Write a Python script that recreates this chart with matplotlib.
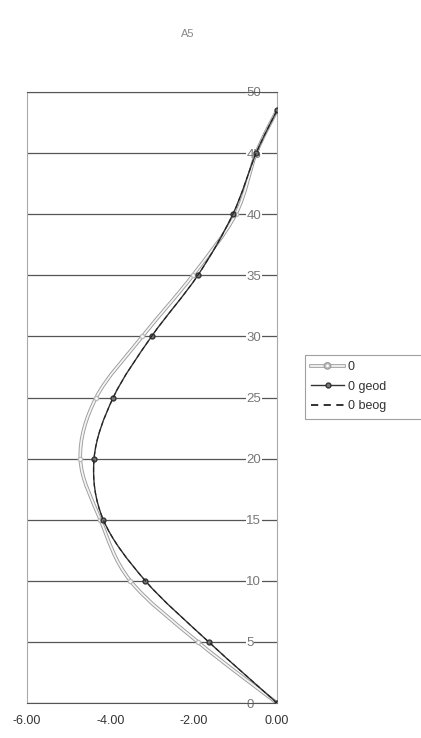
import matplotlib
matplotlib.use("Agg")
import matplotlib.pyplot as plt
from matplotlib.lines import Line2D
from matplotlib.path import Path
from matplotlib.patches import PathPatch
import matplotlib.patheffects as pe

depth = [0, 5, 10, 15, 20, 25, 30, 35, 40, 45, 48.5]
series_light = [0.0, -1.90, -3.52, -4.24, -4.72, -4.34, -3.23, -2.02, -0.99, -0.50, 0.0]
series_geod = [0.0, -1.64, -3.16, -4.17, -4.39, -3.93, -3.01, -1.90, -1.06, -0.50, 0.0]
series_beog = [0.0, -1.64, -3.16, -4.17, -4.39, -3.93, -3.01, -1.90, -1.06, -0.50, 0.0]
labels = ["0", "0 geod", "0 beog"]
title = "A5"
xticks = [-6, -4, -2, 0]
yticks = [0, 5, 10, 15, 20, 25, 30, 35, 40, 45, 50]

plt.rcParams['font.family'] = ['Liberation Sans', 'DejaVu Sans']


def smooth_path(xs, ys):
    """Excel-style smoothed line: Catmull-Rom segments as cubic Beziers."""
    pts = list(zip(xs, ys))
    n = len(pts)
    verts = [pts[0]]
    codes = [Path.MOVETO]
    for i in range(n - 1):
        p0 = pts[i - 1] if i > 0 else pts[i]
        p1 = pts[i]
        p2 = pts[i + 1]
        p3 = pts[i + 2] if i + 2 < n else pts[i + 1]
        c1 = (p1[0] + (p2[0] - p0[0]) / 6.0, p1[1] + (p2[1] - p0[1]) / 6.0)
        c2 = (p2[0] - (p3[0] - p1[0]) / 6.0, p2[1] - (p3[1] - p1[1]) / 6.0)
        verts += [c1, c2, p2]
        codes += [Path.CURVE4] * 3
    return Path(verts, codes)


fig = plt.figure(figsize=(4.21, 7.38), dpi=100)
ax = fig.add_axes([27/421, 1-703/738, (277-27)/421, (703-92)/738])

ax.set_xlim(-6, 0)
ax.set_ylim(0, 50)
ax.set_xticks(xticks)
ax.set_xticklabels([f"{v:.2f}" for v in xticks])
ax.set_yticks(yticks)
ax.grid(axis='y', color='#555555', linewidth=0.9)
ax.set_axisbelow(True)
for s in ax.spines.values():
    s.set_color('#aaaaaa')
    s.set_linewidth(0.8)
ax.spines['top'].set_color('#555555')
ax.spines['bottom'].set_color('#555555')

ax.tick_params(axis='x', length=0, pad=9, labelsize=9, labelcolor='#333333')
ax.tick_params(axis='y', length=0, labelleft=False, labelright=True,
               pad=-22, labelsize=9.5, labelcolor='#777777')
for lbl in ax.get_yticklabels():
    lbl.set_bbox(dict(facecolor='white', edgecolor='none', pad=0.3))

# light series: white line with grey outline
light_patch = PathPatch(smooth_path(series_light, depth), facecolor='none',
                        edgecolor='#f4f4f4', linewidth=1.3, zorder=3,
                        path_effects=[pe.Stroke(linewidth=2.6, foreground='#9a9a9a'), pe.Normal()])
ax.add_patch(light_patch)
ax.plot(series_light, depth, linestyle='none', marker='o', markersize=3,
        markerfacecolor='white', markeredgecolor='#bbbbbb', zorder=3.5)

geod_patch = PathPatch(smooth_path(series_geod, depth), facecolor='none',
                       edgecolor='#333333', linewidth=1.0, zorder=4)
ax.add_patch(geod_patch)
ax.plot(series_geod, depth, linestyle='none', marker='o', markersize=3.5,
        markerfacecolor='#777777', markeredgecolor='#333333', zorder=4.5)

beog_patch = PathPatch(smooth_path(series_beog, depth), facecolor='none',
                       edgecolor='#222222', linewidth=0.8, linestyle=(0, (4, 3)), zorder=5)
ax.add_patch(beog_patch)

fig.text(188/421, 1-34/738, title, ha='center', va='center', fontsize=8, color='#888888')

handles = [
    Line2D([], [], color='#f4f4f4', linewidth=1.3, marker='o', markersize=3,
           markerfacecolor='white', markeredgecolor='#bbbbbb',
           path_effects=[pe.Stroke(linewidth=2.6, foreground='#9a9a9a'), pe.Normal()]),
    Line2D([], [], color='#333333', linewidth=1.0, marker='o', markersize=3.5,
           markerfacecolor='#777777', markeredgecolor='#333333'),
    Line2D([], [], color='#222222', linewidth=1.3, linestyle=(0, (4, 3))),
]
leg = fig.legend(handles, labels, loc='upper left',
                 bbox_to_anchor=(305/421, 1-355/738, 140/421, 0), mode='expand',
                 borderaxespad=0, fontsize=9, frameon=True, fancybox=False,
                 handlelength=2.6, handletextpad=0.3, borderpad=0.5, labelspacing=0.6)
leg.get_frame().set_edgecolor('#888888')
leg.get_frame().set_linewidth(0.8)
for t in leg.get_texts():
    t.set_color('#333333')

fig.savefig("out.png", dpi=100)
